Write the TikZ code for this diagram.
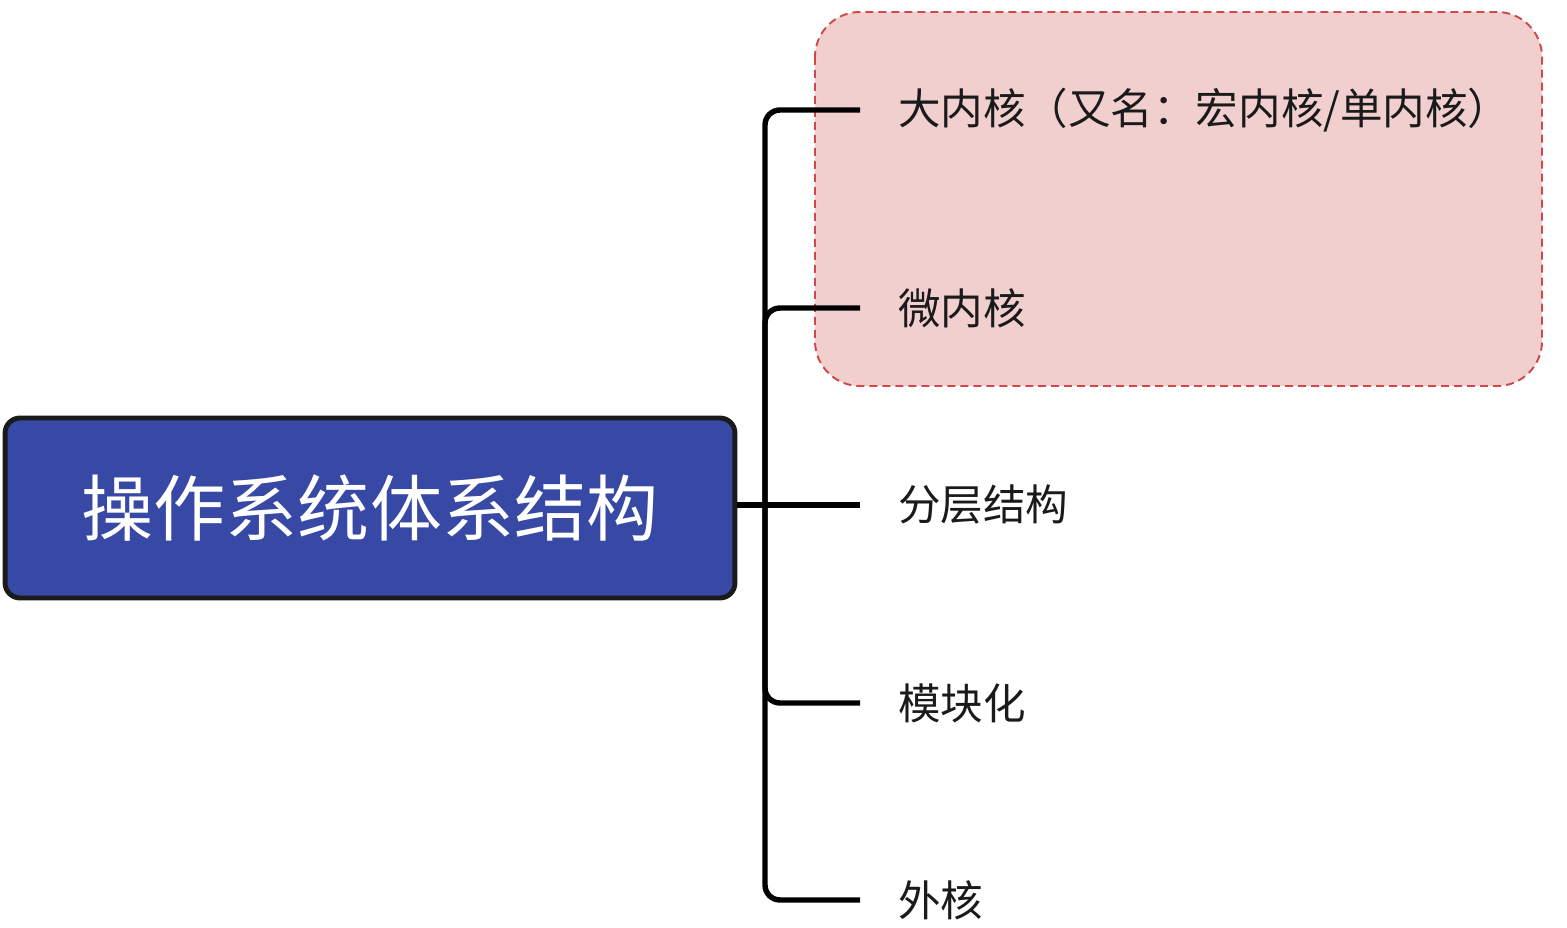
\documentclass[tikz,border=0pt]{standalone}
\usepackage{fontspec}
\setmainfont{Noto Sans CJK SC}
\usepackage{xcolor}
\usetikzlibrary{positioning}
\definecolor{osblue}{HTML}{3848A5}
\definecolor{osred}{HTML}{D04848}
\definecolor{ospink}{HTML}{F2CFCF}
\definecolor{osink}{HTML}{1A1A1A}

\begin{document}
\begin{tikzpicture}[x=0.02cm, y=-0.02cm,
  rootnode/.style={rectangle, draw=osink, fill=osblue, line width=2.8pt, rounded corners=0.3cm, minimum width=14.6cm, minimum height=3.6cm, text=white, font=\fontsize{41}{48}\selectfont},
  leafnode/.style={anchor=west, inner sep=0pt, text=osink, font=\fontsize{24.2}{28}\selectfont},
  groupbox/.style={draw=osred, fill=ospink, line width=1.1pt, dash pattern=on 0.16cm off 0.1cm, rounded corners=0.9cm},
  branch/.style={draw=black, line width=3.1pt, rounded corners=0.3cm},
]
  \useasboundingbox (0,0) rectangle (1567,928);

  % Highlight for the kernel variants
  \draw[groupbox] (815,12) rectangle (1542,386);

  % Root
  \node[rootnode] (root) at (370,508) {操作系统体系结构};

  % Leaves
  \node[leafnode] (k1) at (898,110) {大内核（又名：宏内核/单内核）};
  \node[leafnode] (k2) at (898,308) {微内核};
  \node[leafnode] (k3) at (898,505) {分层结构};
  \node[leafnode] (k4) at (898,703) {模块化};
  \node[leafnode] (k5) at (898,900) {外核};

  % Branches
  \coordinate (trunk) at (765,505);
  \draw[branch] (root.east |- trunk) -- ([xshift=-0.76cm]k3.west);
  \foreach \leaf in {k1,k2,k4,k5}
    \draw[branch] (trunk) |- ([xshift=-0.76cm]\leaf.west);
\end{tikzpicture}
\end{document}
